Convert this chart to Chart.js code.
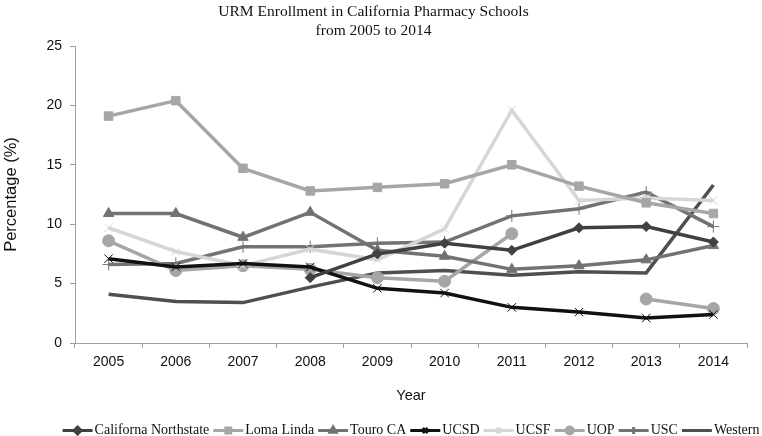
<!DOCTYPE html>
<html>
<head>
<meta charset="utf-8">
<script src="https://cdn.jsdelivr.net/npm/chart.js@4.4.1/dist/chart.umd.min.js"></script>
<style>
  html, body { margin: 0; padding: 0; background: #ffffff; }
  #wrap { width: 762px; height: 436px; }
</style>
</head>
<body>
<div id="wrap"><canvas id="c" width="762" height="436"></canvas></div>
<script>
// ---- Data ----
const years = ['2005','2006','2007','2008','2009','2010','2011','2012','2013','2014'];
const californiaNorthstate = [null, null, null, 5.5, 7.5, 8.4, 7.8, 9.7, 9.8, 8.5];
const lomaLinda            = [19.1, 20.4, 14.7, 12.8, 13.1, 13.4, 15.0, 13.2, 11.8, 10.9];
const touroCA              = [10.9, 10.9, 8.9, 11.0, 7.8, 7.3, 6.2, 6.5, 7.0, 8.2];
const ucsd                 = [7.1, 6.4, 6.7, 6.4, 4.6, 4.2, 3.0, 2.6, 2.1, 2.4];
const ucsf                 = [9.7, 7.7, 6.5, 7.9, 7.0, 9.6, 19.6, 12.0, 12.2, 12.0];
const uop                  = [8.6, 6.1, 6.5, 6.2, 5.5, 5.2, 9.2, null, 3.7, 2.9];
const usc                  = [6.6, 6.7, 8.1, 8.1, 8.4, 8.5, 10.7, 11.3, 12.7, 9.8];
const western              = [4.1, 3.5, 3.4, 4.7, 5.9, 6.1, 5.7, 6.0, 5.9, 13.3];
const seriesNames = ['Californa Northstate','Loma Linda','Touro CA','UCSD','UCSF','UOP','USC','Western'];
const yTicks = [0, 5, 10, 15, 20, 25];

const serif = '"Liberation Serif", "Times New Roman", serif';
const sans = '"Liberation Sans", Arial, sans-serif';

function ds(label, data, color, style, radius, bw) {
  return {
    label, data,
    borderColor: color, backgroundColor: color,
    pointBackgroundColor: color, pointBorderColor: color,
    pointStyle: style, pointRadius: radius, pointBorderWidth: bw,
    pointHoverRadius: radius,
    borderWidth: 3.5, tension: 0, spanGaps: false
  };
}

const datasets = [
  ds(seriesNames[0], californiaNorthstate, '#404040', 'rectRot', 5, 1),
  ds(seriesNames[1], lomaLinda, '#a6a6a6', 'rect', 6, 1),
  ds(seriesNames[2], touroCA, '#727272', 'triangle', 6, 1),
  ds(seriesNames[3], ucsd, '#111111', 'crossRot', 6, 1),
  ds(seriesNames[4], ucsf, '#d6d6d6', 'crossRot', 6, 1),
  ds(seriesNames[5], uop, '#a6a6a6', 'circle', 6, 1),
  ds(seriesNames[6], usc, '#737373', 'cross', 6, 1),
  ds(seriesNames[7], western, '#4f4f4f', false, 0, 0)
];

const legendPlugin = {
  id: 'bottomLegend',
  afterDraw(chart) {
    const ctx = chart.ctx;
    ctx.save();
    ctx.font = '14px ' + serif;
    const symW = 30, gapAfterSym = 2, gapItem = 4;
    const items = chart.data.datasets.map(d => ({ d, w: ctx.measureText(d.label).width }));
    let total = 0;
    items.forEach((it, i) => { total += symW + gapAfterSym + it.w + (i < items.length - 1 ? gapItem : 0); });
    let x = 411 - total / 2;
    const y = 430.5;
    items.forEach(it => {
      const d = it.d;
      ctx.strokeStyle = d.borderColor;
      ctx.lineWidth = 3;
      ctx.beginPath();
      ctx.moveTo(x, y);
      ctx.lineTo(x + symW, y);
      ctx.stroke();
      if (d.pointStyle) {
        ctx.fillStyle = d.borderColor;
        ctx.strokeStyle = d.borderColor;
        Chart.helpers.drawPoint(ctx, { pointStyle: d.pointStyle, rotation: 0, radius: 3.5, borderWidth: 1 }, x + symW / 2, y);
      }
      ctx.fillStyle = '#111111';
      ctx.textBaseline = 'middle';
      ctx.textAlign = 'left';
      ctx.fillText(d.label, x + symW + gapAfterSym, y);
      x += symW + gapAfterSym + it.w + gapItem;
    });
    ctx.restore();
  }
};

new Chart(document.getElementById('c'), {
  type: 'line',
  data: { labels: years, datasets },
  plugins: [legendPlugin],
  options: {
    responsive: false,
    devicePixelRatio: 1,
    animation: false,
    layout: { padding: { left: 0, right: 15, top: 0, bottom: 23 } },
    plugins: {
      legend: { display: false },
      tooltip: { enabled: false },
      title: {
        display: true,
        text: ['URM Enrollment in California Pharmacy Schools', 'from 2005 to 2014'],
        font: { family: serif, size: 15.5, weight: 'normal', lineHeight: 1.25 },
        color: '#111111',
        padding: { top: 2, bottom: 5.25 }
      }
    },
    scales: {
      x: {
        offset: true,
        grid: { offset: true, drawOnChartArea: false, drawTicks: true, tickLength: 5, color: '#a0a0a0' },
        border: { color: '#a0a0a0', width: 1 },
        ticks: { font: { family: sans, size: 14 }, color: '#111111', padding: 6, maxRotation: 0 },
        title: { display: true, text: 'Year', font: { family: sans, size: 14.5 }, color: '#111111', padding: { top: 0, bottom: 8 } },
        afterFit: s => { s.height = 70; }
      },
      y: {
        min: 0, max: 25,
        afterBuildTicks: s => { s.ticks = yTicks.map(v => ({ value: v })); },
        grid: { drawOnChartArea: false, drawTicks: true, tickLength: 5, color: '#a0a0a0' },
        border: { color: '#a0a0a0', width: 1 },
        ticks: { font: { family: sans, size: 14 }, color: '#111111', padding: 8 },
        title: { display: true, text: 'Percentage (%)', font: { family: sans, size: 16.5 }, color: '#111111', padding: { top: 2, bottom: 0 } },
        afterFit: s => { s.width = 75; }
      }
    }
  }
});
</script>
</body>
</html>
